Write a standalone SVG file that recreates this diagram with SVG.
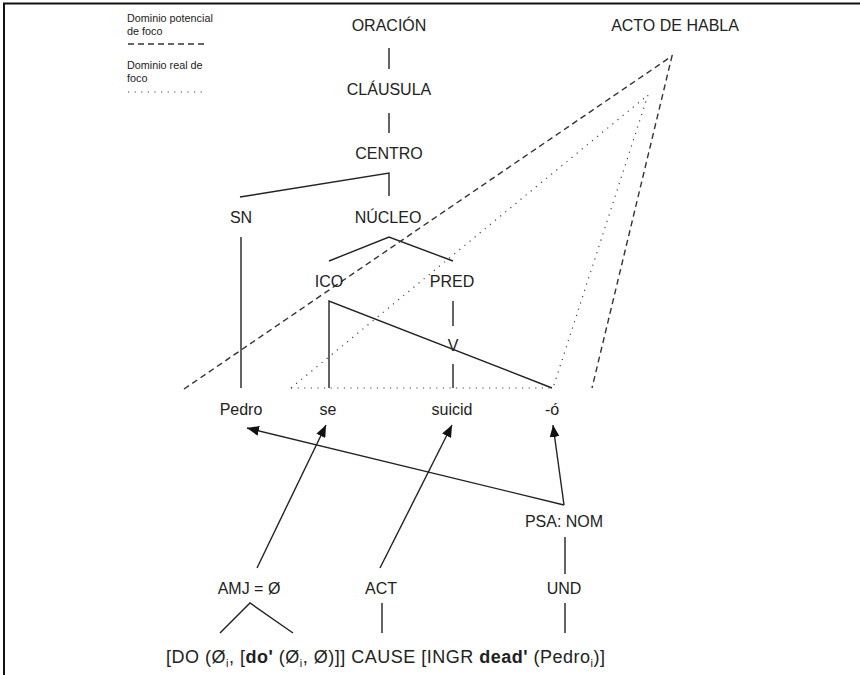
<svg xmlns="http://www.w3.org/2000/svg" width="860" height="675" viewBox="0 0 860 675">
<style>
  text { font-family: "Liberation Sans", Arial, sans-serif; fill: #222; }
  .lbl { font-size: 16px; text-anchor: middle; }
  .leg { font-size: 10.8px; }
  .ln { stroke: #222; stroke-width: 1.4; fill: none; }
  .dash { stroke: #333; stroke-width: 1.4; fill: none; stroke-dasharray: 6 4; }
  .dot { stroke: #444; stroke-width: 1.2; fill: none; stroke-dasharray: 1.2 5.4; }
  .arr { stroke: #222; stroke-width: 1.4; fill: none; marker-end: url(#ah); }
  .b { font-weight: bold; }
</style>
<defs>
  <marker id="ah" viewBox="0 0 12 10" refX="12" refY="5" markerWidth="12" markerHeight="10" markerUnits="userSpaceOnUse" orient="auto">
    <path d="M0,0 L12,5 L0,10 Z" fill="#111"/>
  </marker>
</defs>
<rect width="860" height="675" fill="#fff"/>
<g id="frame">
  <line x1="3" y1="3.5" x2="860" y2="3.5" stroke="#111" stroke-width="2"/>
  <line x1="4" y1="3" x2="4" y2="675" stroke="#111" stroke-width="2"/>
</g>
<g id="legend">
  <text class="leg" x="127" y="22">Dominio potencial</text>
  <text class="leg" x="127" y="35">de foco</text>
  <line class="dash" x1="128" y1="44" x2="207" y2="44"/>
  <text class="leg" x="127" y="69">Dominio real  de</text>
  <text class="leg" x="127" y="82">foco</text>
  <line class="dot" x1="128" y1="92" x2="207" y2="92"/>
</g>
<g id="connectors">
  <line class="ln" x1="389" y1="48" x2="389" y2="69"/>
  <line class="ln" x1="389" y1="113" x2="389" y2="133"/>
  <polyline class="ln" points="240,197 389,173 389,196"/>
  <line class="ln" x1="241" y1="237" x2="241" y2="388"/>
  <polyline class="ln" points="329,261 389,237 453,261"/>
  <polyline class="ln" points="329,388 329,301 552,388"/>
  <line class="ln" x1="453" y1="301" x2="453" y2="326"/>
  <line class="ln" x1="453" y1="364" x2="453" y2="388"/>
  <line class="dot" x1="291" y1="388" x2="552" y2="388"/>
  <polyline class="dash" points="184,389 672,56 592,388"/>
  <polyline class="dot" points="291,388 648,95 553,388"/>
  <line class="arr" x1="564" y1="505" x2="247" y2="428"/>
  <line class="arr" x1="564" y1="505" x2="553" y2="425"/>
  <line class="arr" x1="257" y1="568" x2="326" y2="425"/>
  <line class="arr" x1="380" y1="568" x2="452" y2="425"/>
  <line class="ln" x1="565" y1="537" x2="565" y2="574"/>
  <line class="ln" x1="565" y1="603" x2="565" y2="633"/>
  <line class="ln" x1="382" y1="603" x2="382" y2="633"/>
  <polyline class="ln" points="220,633 250,603 293,633"/>
</g>
<g id="oracion"><text class="lbl" x="389" y="31">ORACIÓN</text></g>
<g id="clausula"><text class="lbl" x="389" y="95">CLÁUSULA</text></g>
<g id="centro"><text class="lbl" x="389" y="159">CENTRO</text></g>
<g id="sn"><text class="lbl" x="241" y="223">SN</text></g>
<g id="nucleo"><text class="lbl" x="388" y="223">NÚCLEO</text></g>
<g id="acto"><text class="lbl" x="675" y="31">ACTO DE HABLA</text></g>
<g id="ico"><text class="lbl" x="329" y="287">ICO</text></g>
<g id="pred"><text class="lbl" x="452" y="287">PRED</text></g>
<g id="v"><text class="lbl" x="453" y="351">V</text></g>
<g id="pedro"><text class="lbl" x="241" y="415">Pedro</text></g>
<g id="se"><text class="lbl" x="328" y="415">se</text></g>
<g id="suicid"><text class="lbl" x="452" y="415">suicid</text></g>
<g id="o"><text class="lbl" x="552" y="415">-ó</text></g>
<g id="psa"><text class="lbl" x="564" y="527">PSA: NOM</text></g>
<g id="amj"><text class="lbl" x="249" y="594">AMJ = Ø</text></g>
<g id="act"><text class="lbl" x="381" y="594">ACT</text></g>
<g id="und"><text class="lbl" x="564" y="594">UND</text></g>
<g id="formula">
  <text x="166" y="663" font-size="18" textLength="439" lengthAdjust="spacing">[DO (Ø<tspan font-size="11" dy="4">i</tspan><tspan dy="-4">, [</tspan><tspan class="b">do'</tspan> (Ø<tspan font-size="11" dy="4">i</tspan><tspan dy="-4">, Ø)]] CAUSE [INGR </tspan><tspan class="b">dead'</tspan> (Pedro<tspan font-size="11" dy="4">i</tspan><tspan dy="-4">)]</tspan></text>
</g>
</svg>
